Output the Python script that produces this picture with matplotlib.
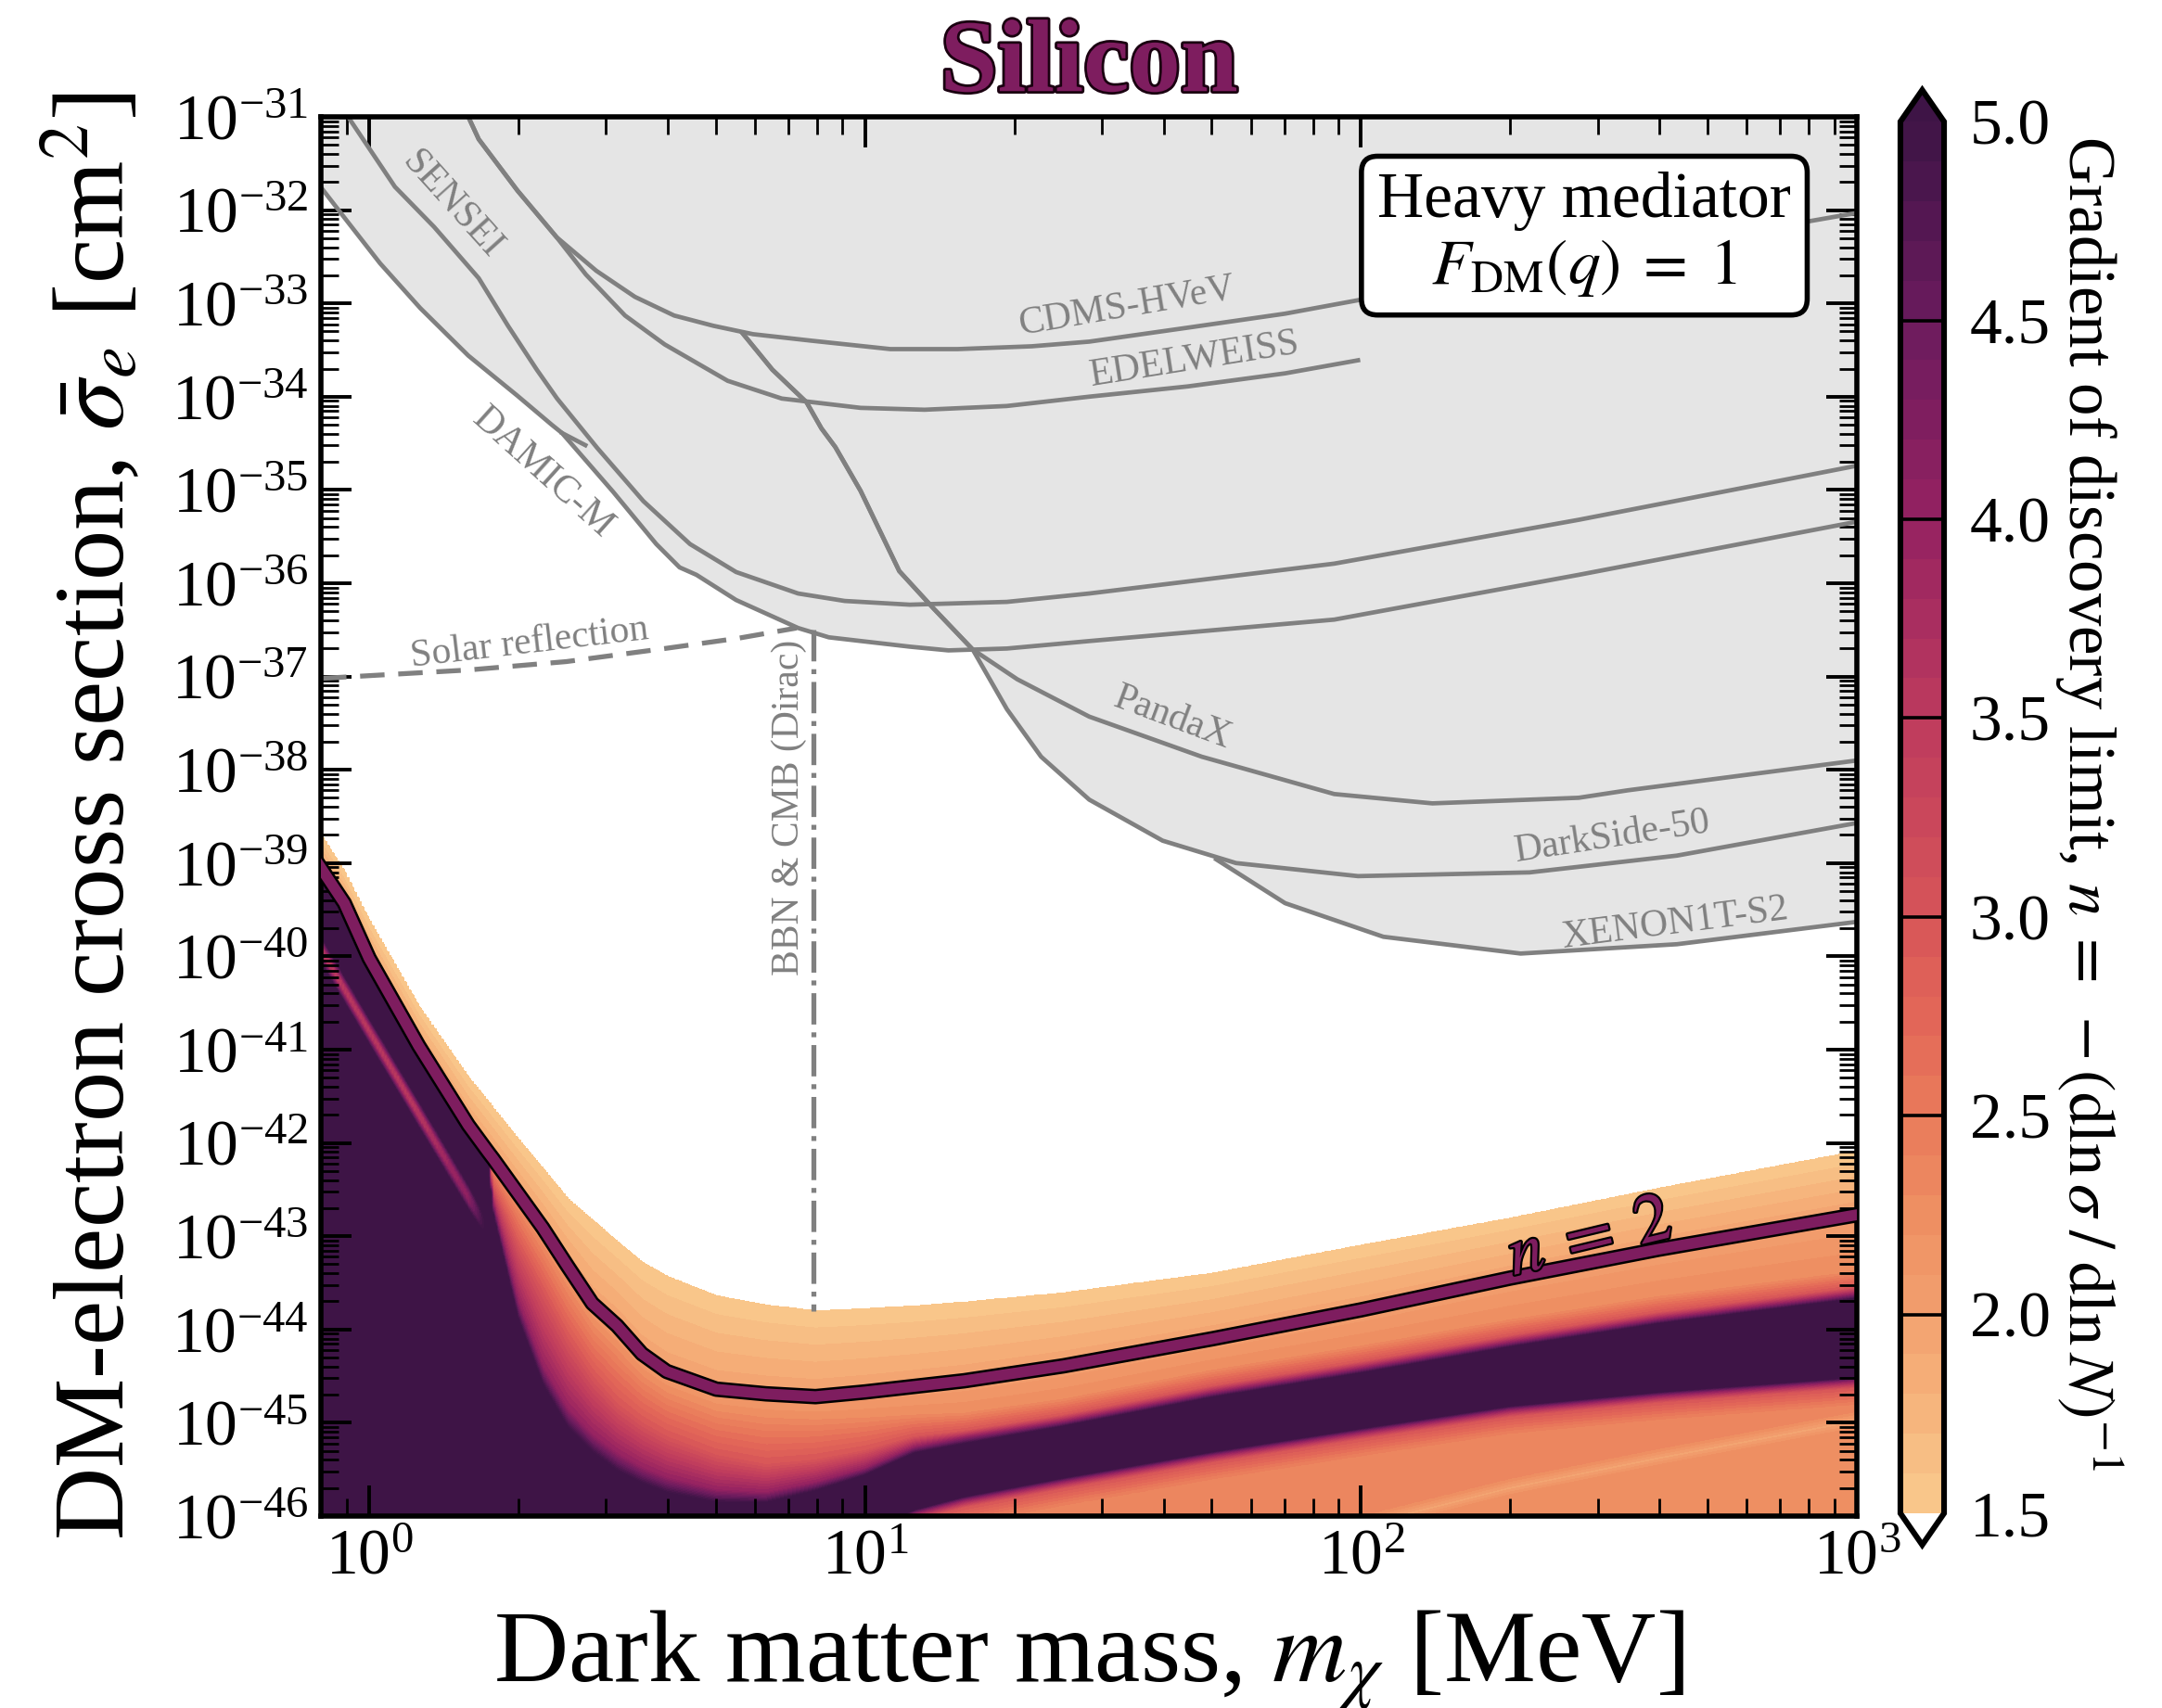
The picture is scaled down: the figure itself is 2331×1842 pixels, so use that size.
import numpy as np
import matplotlib
matplotlib.use("Agg")
import matplotlib.pyplot as plt
import matplotlib.patheffects as pe
from matplotlib.colors import LinearSegmentedColormap
from matplotlib.ticker import (LogLocator, NullFormatter, FormatStrFormatter,
                               FixedLocator, LogFormatterSciNotation)

plt.rcParams['font.family'] = ['Liberation Serif', 'DejaVu Serif']
plt.rcParams['mathtext.fontset'] = 'stix'

# =========================================================
# EXCLUSION LIMITS  (log10 mass [MeV], log10 sigma [cm^2])
# =========================================================

sensei_lm = [-0.055, 0.052, 0.131, 0.221, 0.280, 0.338, 0.379, 0.460, 0.553, 0.647,
             0.740, 0.865, 0.959, 1.090, 1.286, 1.452, 1.946, 2.439, 3.0]
sensei_ls = [-30.9, -31.75, -32.18, -32.73, -33.24, -33.71, -34.02, -34.55, -35.12, -35.58,
             -35.88, -36.11, -36.19, -36.23, -36.20, -36.11, -35.79, -35.32, -34.74]

damic_lm = [-0.095, -0.047, 0.022, 0.103, 0.200, 0.299, 0.368, 0.389, 0.492, 0.579, 0.626,
            0.660, 0.740, 0.865, 0.927, 1.090, 1.168, 1.286, 1.452, 1.946, 2.439, 3.0]
damic_ls = [-31.77, -32.10, -32.57, -33.05, -33.56, -33.99, -34.30, -34.39, -35.02, -35.58, -35.83,
            -35.91, -36.18, -36.48, -36.58, -36.68, -36.72, -36.70, -36.62, -36.39, -35.91, -35.34]
damic_tail_lm = [0.389, 0.436]
damic_tail_ls = [-34.39, -34.52]

cdms_lm = [0.190, 0.200, 0.221, 0.299, 0.378, 0.458, 0.536, 0.615, 0.694, 0.774, 0.892,
           1.051, 1.187, 1.336, 1.452, 1.651, 1.847, 2.0, 2.903, 3.0]
cdms_ls = [-30.9, -31.0, -31.24, -31.79, -32.29, -32.65, -32.93, -33.13, -33.24, -33.33, -33.40,
           -33.49, -33.49, -33.46, -33.41, -33.26, -33.11, -32.96, -32.12, -32.03]

edel_lm = [0.190, 0.200, 0.221, 0.299, 0.378, 0.437, 0.516, 0.596, 0.723, 0.832, 0.991,
           1.120, 1.286, 1.452, 1.651, 1.847, 1.994]
edel_ls = [-30.9, -31.0, -31.24, -31.79, -32.29, -32.69, -33.13, -33.44, -33.83, -34.02, -34.12,
           -34.14, -34.10, -34.00, -33.89, -33.75, -33.61]

panda_lm = [0.753, 0.813, 0.882, 0.912, 0.940, 0.991, 1.069, 1.138, 1.217, 1.307, 1.452,
            1.679, 1.946, 2.144, 2.439, 2.538, 3.0]
panda_ls = [-33.32, -33.71, -34.06, -34.34, -34.54, -35.01, -35.87, -36.27, -36.71, -37.03, -37.43,
            -37.86, -38.26, -38.36, -38.30, -38.22, -37.90]

darkside_lm = [0.753, 0.813, 0.882, 0.912, 0.940, 0.991, 1.069, 1.138, 1.217, 1.286, 1.355,
               1.452, 1.600, 1.748, 1.994, 2.340, 2.637, 3.0]
darkside_ls = [-33.32, -33.71, -34.06, -34.34, -34.54, -35.01, -35.87, -36.27, -36.71, -37.35, -37.86,
               -38.32, -38.76, -39.00, -39.14, -39.10, -38.92, -38.57]

xenon_lm = [1.708, 1.847, 2.045, 2.322, 2.637, 3.0]
xenon_ls = [-38.96, -39.43, -39.79, -39.97, -39.87, -39.63]

solar_lm = [-0.095, 0.200, 0.398, 0.596, 0.744, 0.862]
solar_ls = [-37.02, -36.93, -36.84, -36.70, -36.59, -36.48]

bbn_mass = 7.88
bbn_ls = [-36.50, -43.80]

# =========================================================
# DISCOVERY-LIMIT GRADIENT: level curves
# =========================================================

grid_lm = [-0.1, -0.05, 0.0, 0.1, 0.2, 0.24, 0.25, 0.3, 0.35, 0.4, 0.45, 0.5, 0.55,
           0.6, 0.7, 0.8, 0.9, 1.0, 1.1, 1.2, 1.4, 1.7, 2.0, 2.3, 2.6, 3.0]

n15_ls = [-38.68, -39.10, -39.62, -40.54, -41.30, -41.56, -41.63, -41.96, -42.28, -42.60, -42.83, -43.06, -43.28,
          -43.43, -43.64, -43.74, -43.80, -43.78, -43.75, -43.71, -43.61, -43.40, -43.10, -42.81, -42.49, -42.09]
n20_ls = [-39.03, -39.43, -40.02, -40.96, -41.81, -42.10, -42.17, -42.54, -42.91, -43.32, -43.72, -43.96, -44.26,
          -44.45, -44.64, -44.69, -44.72, -44.67, -44.61, -44.55, -44.39, -44.10, -43.79, -43.45, -43.14, -42.77]
n23_ls = [-39.06, -39.46, -40.05, -40.99, -41.84, -42.13, -42.26, -42.68, -43.10, -43.55, -43.95, -44.22, -44.50,
          -44.68, -44.88, -44.95, -44.97, -44.95, -44.92, -44.90, -44.75, -44.44, -44.18, -43.90, -43.65, -43.38]
n30_ls = [-39.08, -39.48, -40.07, -41.01, -41.86, -42.16, -42.48, -43.10, -43.60, -44.10, -44.50, -44.80, -45.00,
          -45.15, -45.35, -45.45, -45.40, -45.30, -45.15, -45.09, -44.92, -44.61, -44.35, -44.07, -43.82, -43.55]
n40_ls = [-39.11, -39.51, -40.10, -41.04, -41.89, -42.19, -42.66, -43.70, -44.40, -44.85, -45.13, -45.33, -45.48,
          -45.59, -45.72, -45.75, -45.64, -45.49, -45.26, -45.16, -44.99, -44.68, -44.42, -44.14, -43.89, -43.62]
dark_top_ls = [-39.15, -39.55, -40.14, -41.08, -41.93, -42.23, -42.78, -43.92, -44.63, -45.09, -45.35, -45.55, -45.68,
               -45.78, -45.88, -45.88, -45.75, -45.58, -45.34, -45.24, -45.05, -44.74, -44.48, -44.20, -43.95, -43.68]
dark_bot_ls = [-46.6, -46.6, -46.6, -46.6, -46.6, -46.6, -46.6, -46.6, -46.6, -46.6, -46.6, -46.6, -46.6,
               -46.6, -46.6, -46.6, -46.45, -46.15, -45.92, -45.78, -45.58, -45.30, -45.05, -44.81, -44.66, -44.50]
light_stripe_ls = [-47.5] * 21 + [-47.0, -46.1, -45.70, -45.38, -44.98]
mag_stripe_ls = [-39.90, -40.35, -40.80, -41.69, -42.58, -42.94] + [-47.0] * 20
mag_stripe_n = [3.6, 3.6, 3.6, 3.6, 4.1, 5.2] + [5.2] * 20

level_n = [1.5, 1.75, 2.0, 2.25, 2.5, 2.75, 3.0, 3.5, 4.0, 4.5, 5.0]
level_colors = ['#f9c98d', '#f6b57d', '#f2a06e', '#ee8e62', '#e97a5b', '#e26658',
                '#d75558', '#bd3a5e', '#952261', '#6b1b5e', '#3e1446']

# =========================================================
# BUILD GRID FROM THE LEVEL CURVES
# =========================================================

lx = np.linspace(-0.1, 3.0, 620)
ly = np.linspace(-46.05, -38.0, 1000)
field = np.empty((ly.size, lx.size))

for j, x in enumerate(lx):
    c = lambda arr: np.interp(x, grid_lm, arr)
    S = c(light_stripe_ls)
    DL = c(dark_bot_ls)
    ys = [-48.0, S - 0.1, S, S + 0.1, DL - 0.3, DL - 0.12, DL - 0.05, DL]
    ns = [2.3, 2.3, 1.95, 2.3, 2.4, 3.0, 4.0, 5.2]
    sn = c(mag_stripe_n)
    if sn < 5.19:
        M = c(mag_stripe_ls)
        ys += [M - 0.16, M - 0.05, M + 0.05, M + 0.16]
        ns += [5.2, sn, sn, 5.2]
    ys += [c(dark_top_ls), c(n40_ls), c(n30_ls), c(n23_ls), c(n20_ls), c(n15_ls), -30.0]
    ns += [5.2, 4.0, 3.0, 2.3, 2.0, 1.5, 1.0]
    ys = np.maximum.accumulate(ys)
    field[:, j] = np.interp(ly, ys, ns)

cmap = LinearSegmentedColormap.from_list(
    'grad', [((n - 1.5) / 3.5, col) for n, col in zip(level_n, level_colors)])
cmap.set_over('#3e1446')
cmap.set_under((1, 1, 1, 0))

# =========================================================
# FIGURE
# =========================================================

fig = plt.figure(figsize=(11.655, 9.21), dpi=200)
ax = fig.add_axes([0.1485, 0.1124, 0.7104, 0.8192])
cax = fig.add_axes([0.879, 0.0955, 0.0202, 0.8518])

grey = '#808080'
purple = '#7e1d5f'

# grey excluded region = everything above the lowest limit
all_limits = [(sensei_lm, sensei_ls), (damic_lm, damic_ls), (cdms_lm, cdms_ls),
              (edel_lm, edel_ls), (panda_lm, panda_ls), (darkside_lm, darkside_ls),
              (xenon_lm, xenon_ls)]
fx = np.linspace(-0.1, 3.0, 900)
stack = np.array([np.interp(fx, lm, ls, left=np.nan, right=np.nan) for lm, ls in all_limits])
env = np.nanmin(stack, axis=0)
ax.fill_between(10 ** fx, 10 ** env, 1e-30, color='#e5e5e5', lw=0, zorder=0)

for lm, ls in all_limits + [(damic_tail_lm, damic_tail_ls)]:
    ax.plot(10 ** np.array(lm), 10 ** np.array(ls), color=grey, lw=1.7, zorder=2)

ax.plot(10 ** np.array(solar_lm), 10 ** np.array(solar_ls), color=grey, lw=1.9,
        dashes=(5, 2.8), zorder=2)
ax.plot([bbn_mass, bbn_mass], 10 ** np.array(bbn_ls), color=grey, lw=1.9,
        linestyle='-.', zorder=2)

cf = ax.contourf(10 ** lx, 10 ** ly, field, levels=np.linspace(1.5, 5.0, 36),
                 cmap=cmap, extend='both', zorder=1)

ax.plot(10 ** np.array(grid_lm), 10 ** np.array(n20_ls), color=purple, lw=4.2, zorder=3,
        path_effects=[pe.Stroke(linewidth=6.0, foreground='k'), pe.Normal()])

# labels of the limits
lab = dict(color=grey, fontsize=15, ha='center', va='center', zorder=4)
ax.text(10 ** 0.166, 10 ** -31.94, 'SENSEI', rotation=-48, **lab)
ax.text(10 ** 0.350, 10 ** -34.82, 'DAMIC-M', rotation=-42, **lab)
ax.text(10 ** 1.527, 10 ** -33.03, 'CDMS-HVeV', rotation=9.7, **lab)
ax.text(10 ** 1.665, 10 ** -33.60, 'EDELWEISS', rotation=9, **lab)
ax.text(10 ** 1.620, 10 ** -37.45, 'PandaX', rotation=-20.5, **lab)
ax.text(10 ** 2.508, 10 ** -38.72, 'DarkSide-50', rotation=8.7, **lab)
ax.text(10 ** 2.632, 10 ** -39.65, 'XENON1T-S2', rotation=7.3, **lab)
ax.text(10 ** 0.323, 10 ** -36.64, 'Solar reflection', rotation=6.7, **lab)
ax.text(10 ** 0.847, 10 ** -38.40, 'BBN & CMB (Dirac)', rotation=90, **lab)

ax.text(10 ** 2.462, 10 ** -43.04, r'$n\;=\;2$', rotation=13.5, color=purple, fontsize=27,
        ha='center', va='center', zorder=5,
        path_effects=[pe.withStroke(linewidth=1.6, foreground='k')])

ax.text(0.8225, 0.961, 'Heavy mediator\n$F_{\\mathrm{DM}}(q)\\;=\\;1$', transform=ax.transAxes,
        ha='center', va='top', fontsize=25, linespacing=1.15, zorder=10,
        bbox=dict(boxstyle='round,pad=0.25', fc='white', ec='black', lw=2))

# =========================================================
# AXES
# =========================================================

ax.set_xscale('log')
ax.set_yscale('log')
ax.set_xlim(0.8, 1000)
ax.set_ylim(1e-46, 1e-31)

ax.xaxis.set_major_locator(FixedLocator([1.0, 10.0, 100.0, 1000.0]))
ax.yaxis.set_major_locator(FixedLocator([10.0 ** k for k in range(-46, -30)]))
ax.xaxis.set_major_formatter(LogFormatterSciNotation())
ax.yaxis.set_major_formatter(LogFormatterSciNotation())
ax.xaxis.set_minor_locator(LogLocator(base=10, subs=np.arange(2, 10), numticks=100))
ax.yaxis.set_minor_locator(LogLocator(base=10, subs=np.arange(2, 10), numticks=200))
ax.xaxis.set_minor_formatter(NullFormatter())
ax.yaxis.set_minor_formatter(NullFormatter())

ax.tick_params(which='both', direction='in', top=True, right=True, labelsize=25, pad=5)
ax.tick_params(which='major', length=12, width=1.4)
ax.tick_params(which='minor', length=7, width=1.0)
for sp in ax.spines.values():
    sp.set_linewidth(2)

ax.set_xlabel(r'Dark matter mass, $m_\chi$ [MeV]', fontsize=40, va='center')
ax.xaxis.set_label_coords(0.5, -0.103)
ax.set_ylabel(r'DM-electron cross section, $\bar{\sigma}_e$ [cm$^2$]', fontsize=39, va='center')
ax.yaxis.set_label_coords(-0.1486, 0.5)

ax.set_title('Silicon', fontsize=40, fontweight='bold', color=purple, pad=10,
             path_effects=[pe.withStroke(linewidth=2, foreground='#1a0010')])

# =========================================================
# COLORBAR
# =========================================================

cbar = fig.colorbar(cf, cax=cax, extendfrac=0.0227)
cbar.set_ticks([1.5, 2.0, 2.5, 3.0, 3.5, 4.0, 4.5, 5.0])
cbar.ax.yaxis.set_major_formatter(FormatStrFormatter('%.1f'))
cbar.ax.tick_params(length=0, labelsize=25, pad=10)
cbar.ax.minorticks_off()
cbar.outline.set_linewidth(2.2)
for v in [2.0, 2.5, 3.0, 3.5, 4.0, 4.5]:
    cbar.ax.axhline(v, color='k', lw=1.3)

fig.text(0.9661, 0.530,
         r'Gradient of discovery limit, $n\;=\;-(\mathrm{d}\ln\sigma\;/\;\mathrm{d}\ln N)^{-1}$',
         rotation=270, ha='center', va='center', fontsize=25.5)

fig.savefig('out.png', dpi=200)
